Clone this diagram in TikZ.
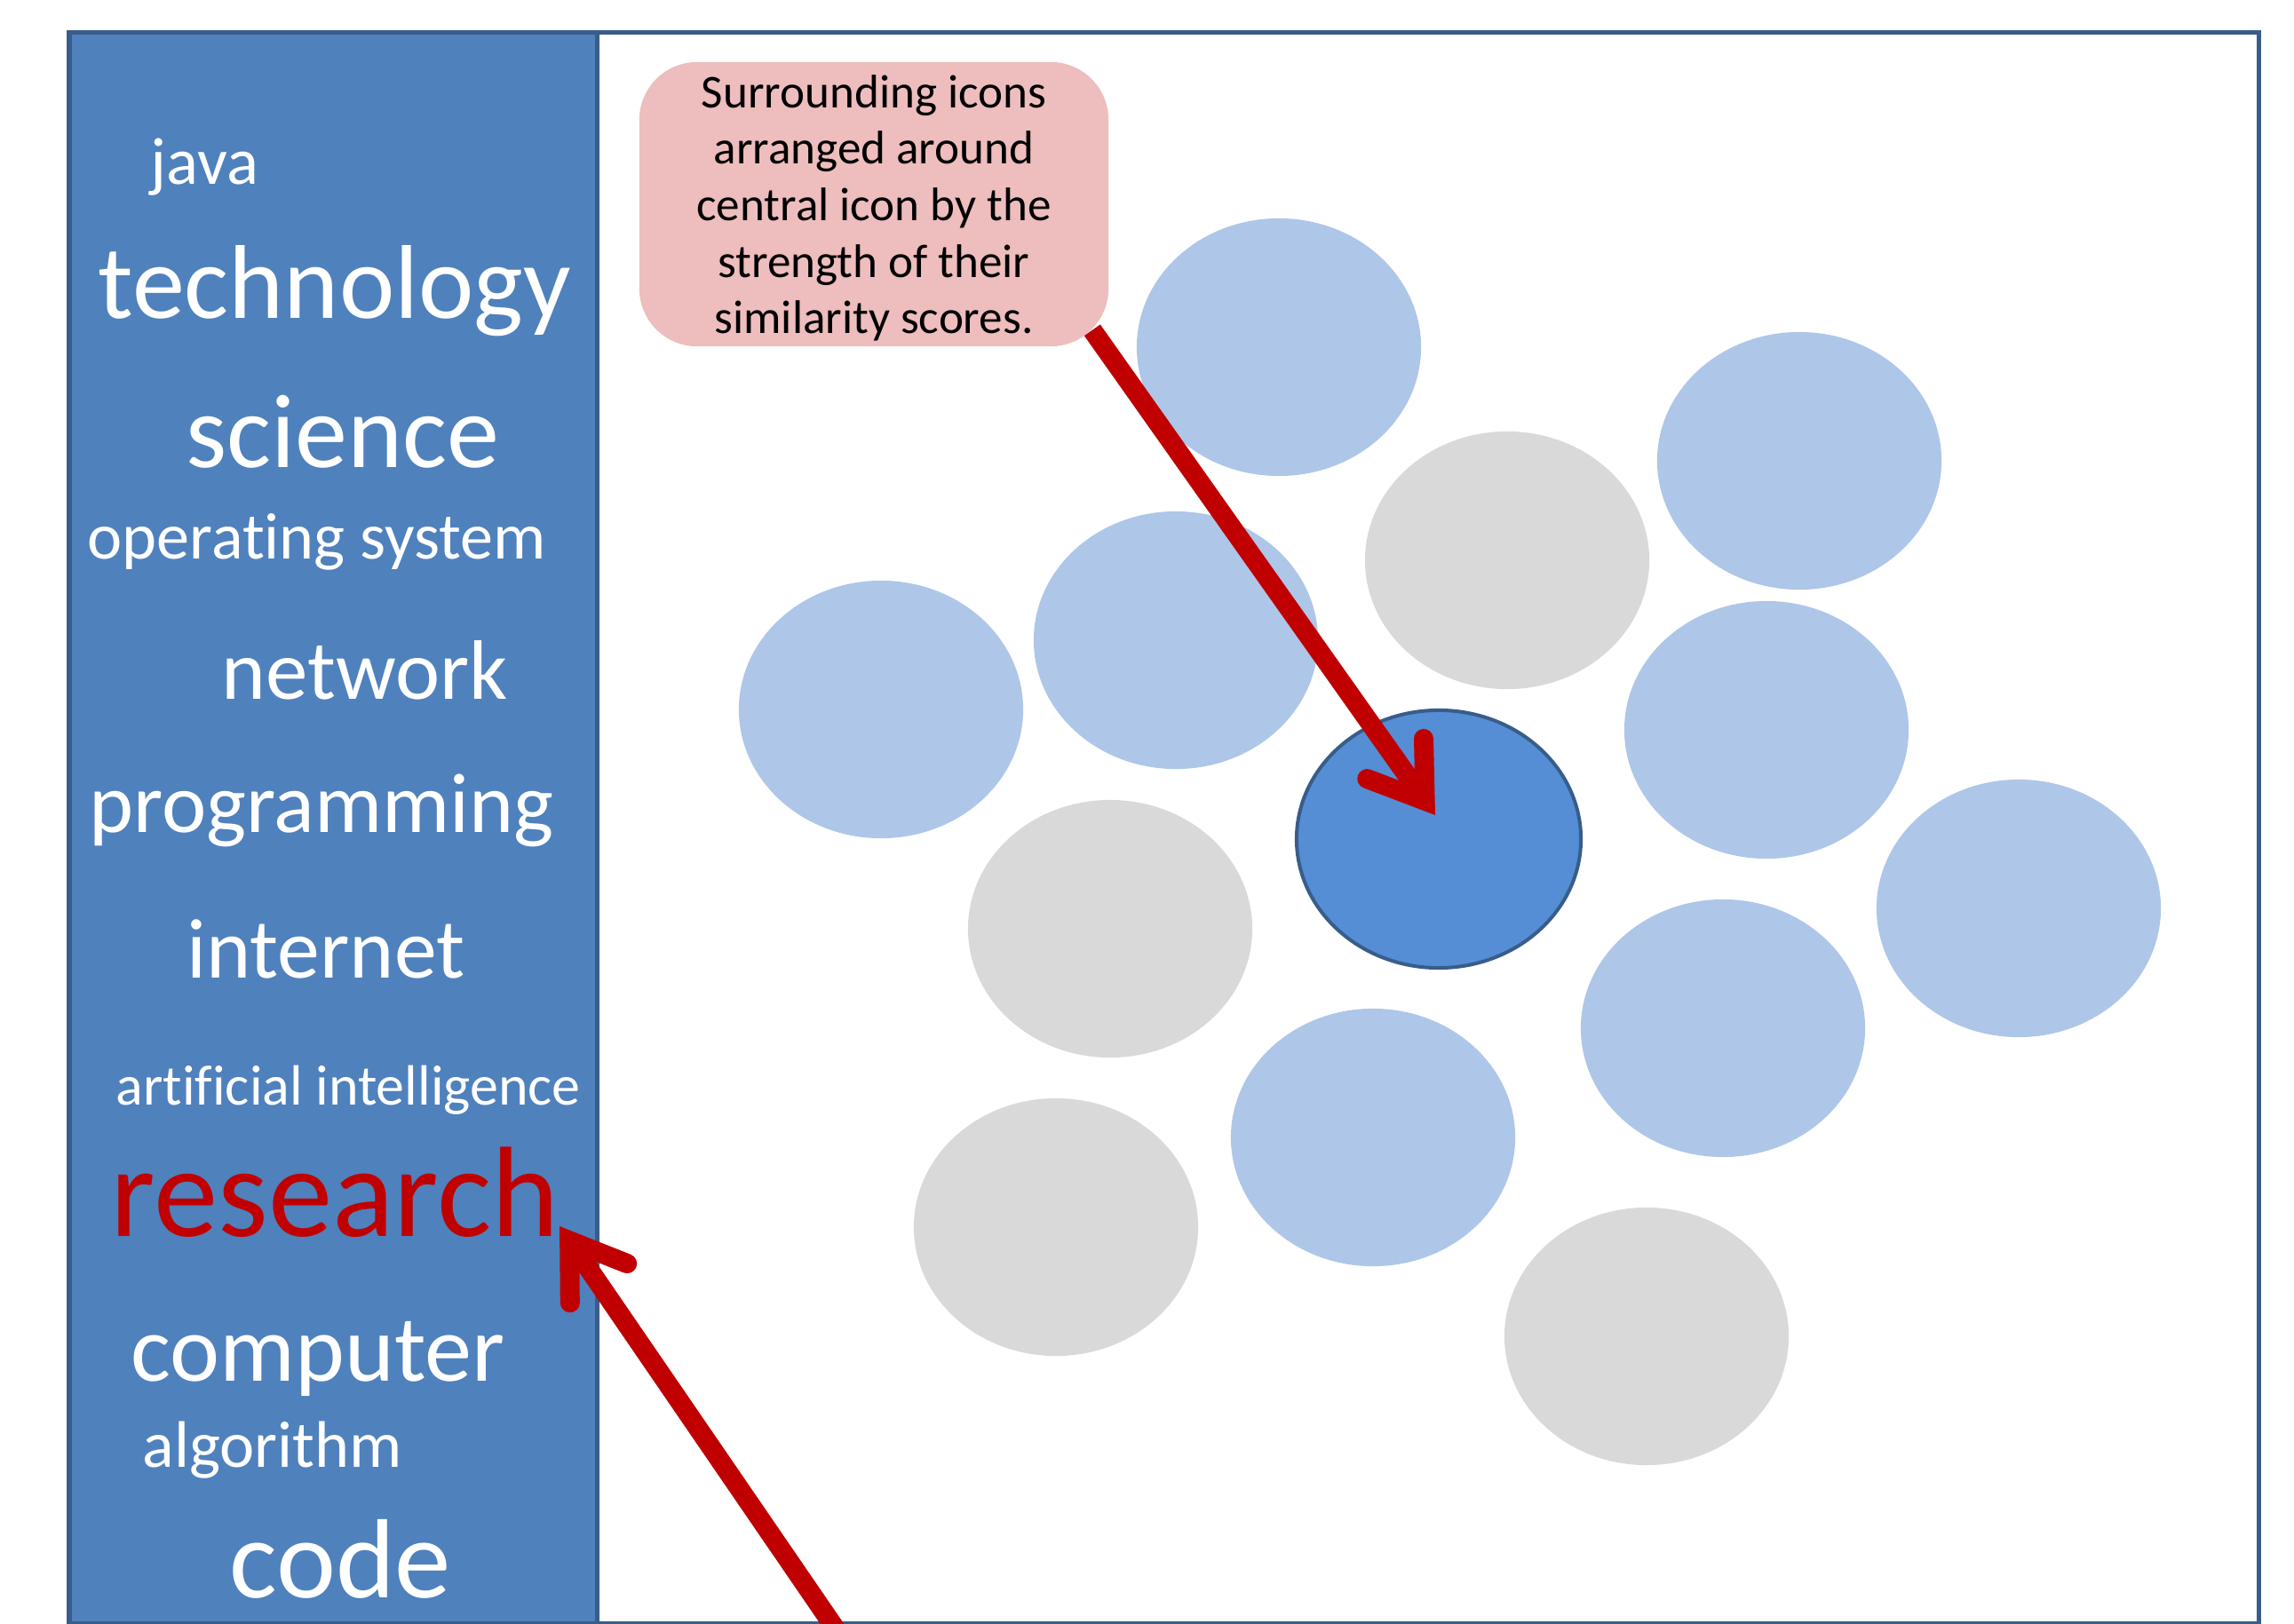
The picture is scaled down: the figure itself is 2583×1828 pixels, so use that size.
\documentclass[tikz,border=0pt]{standalone}
\usepackage{fontspec}
\setmainfont[Ligatures={NoCommon}]{Carlito}
\usepackage{tikz}
\usetikzlibrary{shapes.geometric,arrows.meta,calc}
\definecolor{panelblue}{HTML}{4F81BD}
\definecolor{edgeblue}{HTML}{385D8A}
\definecolor{lightblue}{HTML}{AEC6E8}
\definecolor{greyicon}{HTML}{D9D9D9}
\definecolor{hubblue}{HTML}{558ED5}
\definecolor{arrowred}{HTML}{C00000}
\definecolor{notepink}{HTML}{EEBDBD}

\begin{document}
\begin{tikzpicture}[x=0.01cm,y=-0.01cm,
  word/.style={text=white, inner sep=0, anchor=base west},
  icon/.style={ellipse, minimum width=3.2cm, minimum height=2.9cm, inner sep=0},
  pointer/.style={line width=0.22cm, arrowred, -{Straight Barb[length=0.58cm, width=0.78cm, line cap=round, line join=miter]}}]
\useasboundingbox (0,0) rectangle (2583,1828);
\clip (0,0) rectangle (2583,1828);
% frame and word panel
\draw[edgeblue, line width=0.05cm] (78,37) rectangle (2543,1828);
\draw[edgeblue, fill=panelblue, line width=0.05cm] (78,37) rectangle (672,1828);
\foreach \x/\y/\sz/\nm/\txt in {169/208/21.3/java/java, 110/359/33.6/technology/technology,
  209/527/33.6/science/science, 98/629/21.1/opsys/{operating system},
  249/787/27/network/network, 100/937/27.1/programming/programming,
  210/1101/27.2/internet/internet, 130/1244/18.2/ai/{artificial intelligence},
  147/1555/30.2/computer/computer, 160/1652/21.1/algorithm/algorithm,
  258/1799/36.1/code/code}{
  \node[word, font=\fontsize{\sz}{\sz}\selectfont] (\nm) at (\x,\y) {\txt};
  }
\node[word, text=arrowred, font=\fontsize{41.2}{42}\selectfont] (research) at (124,1392) {research};
% icons
\foreach \x/\y/\nm/\col in {1440/391/top/lightblue, 1697/631/upgrey/greyicon, 2026/519/upright/lightblue,
  992/799/left/lightblue, 1324/721/upleft/lightblue, 1989/822/right/lightblue,
  1250/1046/lowgrey/greyicon, 2273/1023/farright/lightblue, 1940/1158/lowright/lightblue,
  1546/1281/bottom/lightblue, 1189/1382/leftgrey/greyicon, 1854/1505/rightgrey/greyicon}{
  \node[icon, fill=\col] (\nm) at (\x,\y) {};
  }
\node[icon, fill=hubblue, draw=edgeblue, line width=0.04cm] (hub) at (1620,945) {};
% callout
\node[fill=notepink, rounded corners=0.65cm, minimum width=5.28cm, minimum height=3.2cm, align=center,
  text depth=0pt, font=\fontsize{15.1}{18.1}\selectfont] (note) at (984,230)
  {Surrounding icons\\arranged around\\central icon by the\\strength of their\\similarity scores.};
\draw[pointer] ($(note.south east)+(-19,-19)$) -- ($(hub.center)+(-4,-27)$);
\coordinate (below) at (972,1880);
\draw[pointer] (below) -- ($(research.base east)+(0,-11)$);
\end{tikzpicture}
\end{document}
